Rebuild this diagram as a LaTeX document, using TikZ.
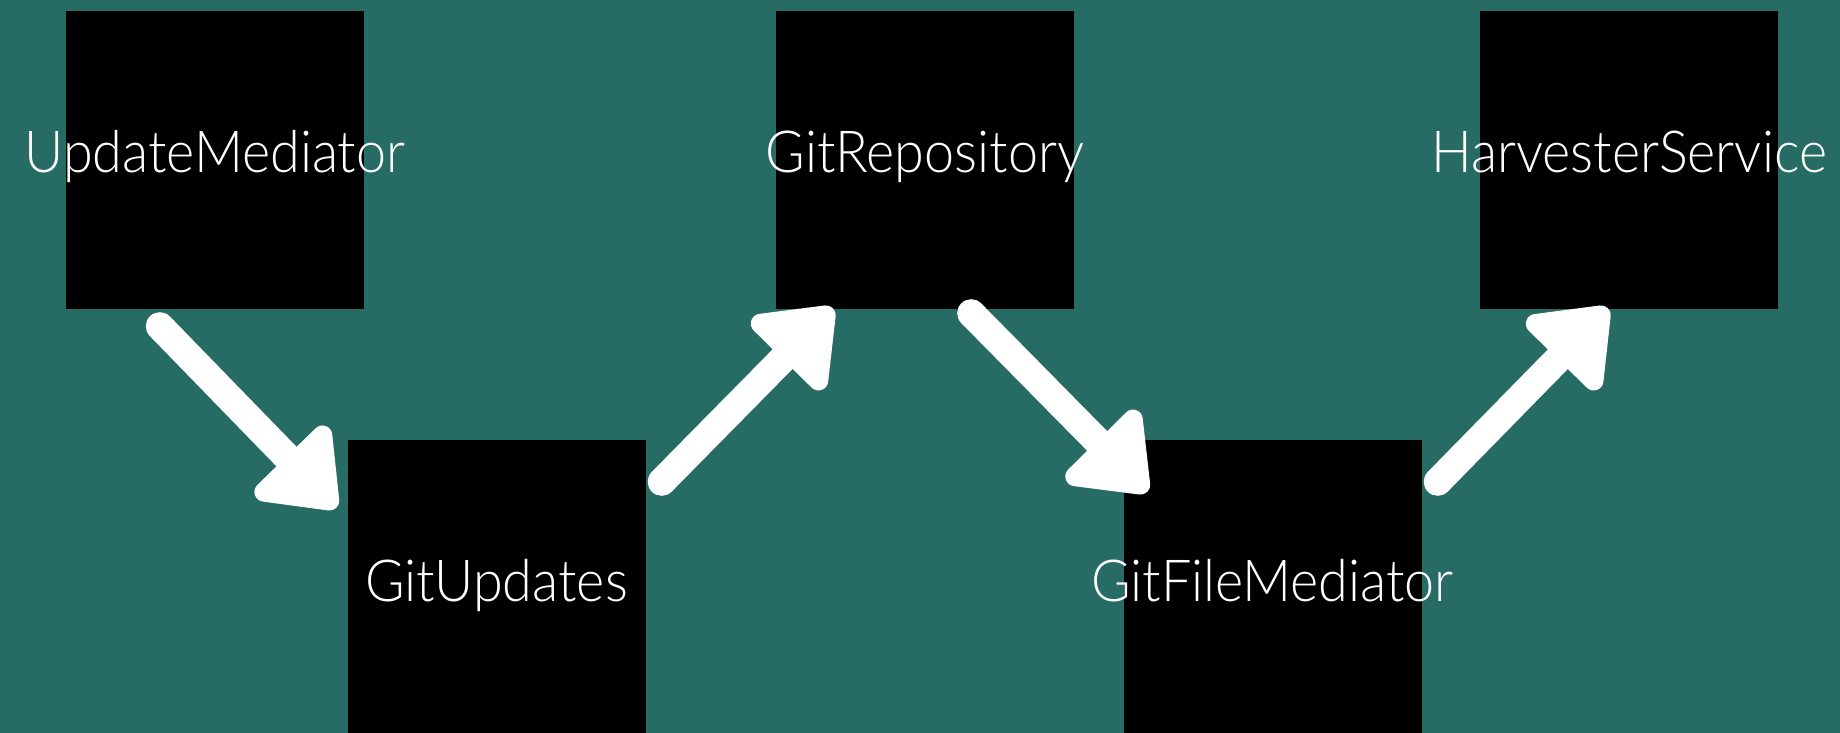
\documentclass[tikz,border=0pt]{standalone}
\usepackage{fontspec}
\setmainfont{Lato}[UprightFont={* Light},FakeStretch=0.93]
\usetikzlibrary{arrows.meta}
\definecolor{bgteal}{RGB}{38,107,100}
\begin{document}
\begin{tikzpicture}
[x=1pt,y=1pt,
  boxdecorate/.style={shape=rectangle,fill=black,text=white,inner sep=0pt,
    minimum size=298pt,font=\fontsize{58}{60}\selectfont,
    text height=42pt,text depth=16pt},%
  arrowdecorate/.style={draw=white,line width=28pt,line cap=round,
    -{Triangle[length=78pt,width=116pt,round]}}]
\useasboundingbox (0,0) rectangle (1840,733);
\fill[bgteal] (0,0) rectangle (1840,733);
%% nodes or boxes
\foreach \nodename/\x/\y/\txt in {um/215/573/UpdateMediator, gu/496.5/144/GitUpdates,
  gr/925/573/GitRepository, gfm/1272.5/144/GitFileMediator,
  hs/1629/573/HarvesterService} {
  \node (\nodename) at (\x,\y) [boxdecorate] {\makebox[0pt]{\txt}};
}
%% arrow ends
\coordinate (um-out) at ([xshift=94pt,yshift=-17pt]um.south west);
\coordinate (gu-in) at ([xshift=-11pt,yshift=-68pt]gu.north west);
\coordinate (gu-out) at ([xshift=16pt,yshift=-42pt]gu.north east);
\coordinate (gr-in) at ([xshift=57pt,yshift=1pt]gr.south west);
\coordinate (gr-out) at ([xshift=-103pt,yshift=-4pt]gr.south east);
\coordinate (gfm-in) at ([xshift=24pt,yshift=-52pt]gfm.north west);
\coordinate (gfm-out) at ([xshift=16pt,yshift=-42pt]gfm.north east);
\coordinate (hs-in) at ([xshift=128pt,yshift=1pt]hs.south west);
%% arrows
\foreach \startnode/\endnode in {um-out/gu-in, gu-out/gr-in, gr-out/gfm-in, gfm-out/hs-in} {
  \draw[arrowdecorate] (\startnode) -- (\endnode);
}
\end{tikzpicture}
\end{document}
